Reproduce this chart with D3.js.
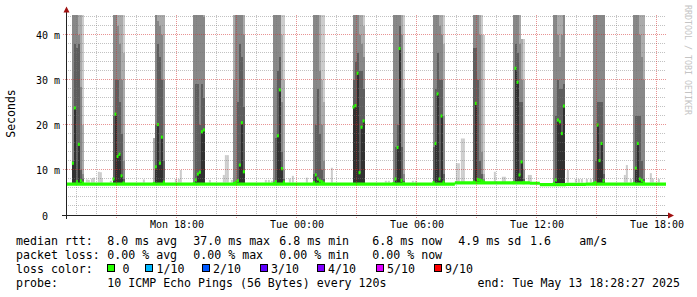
<!DOCTYPE html>
<html>
<head>
<meta charset="utf-8">
<script src="https://cdn.jsdelivr.net/npm/d3@7"></script>
<style>
  body { margin: 0; background: #fff; }
  svg text { font-family: "DejaVu Sans Mono", monospace; }
</style>
</head>
<body>
<svg id="chart" width="697" height="297"></svg>
<script>
// ---- data ----
var startTime = "2025-05-12T12:28:27";
var endTime = "2025-05-13T18:28:27";

var yTicks = [0, 10, 20, 30, 40];
var xLabels = ["2025-05-12T18:00", "2025-05-13T00:00", "2025-05-13T06:00", "2025-05-13T12:00", "2025-05-13T18:00"];

// median outside the spikes (step series)
var baseTimes = ["2025-05-12T12:28", "2025-05-13T07:55", "2025-05-13T11:40", "2025-05-13T12:10", "2025-05-13T13:28", "2025-05-13T14:28"];
var baseMedian = [6.85, 7.15, 7.05, 6.75, 6.8, 6.85];

// small light smoke blips above the baseline
var blipTimes = ["2025-05-12T13:28", "2025-05-12T13:34", "2025-05-12T13:43", "2025-05-12T13:49", "2025-05-12T14:04",
  "2025-05-12T14:10", "2025-05-12T14:13", "2025-05-12T14:40", "2025-05-12T16:19", "2025-05-12T17:55",
  "2025-05-12T18:04", "2025-05-12T18:10", "2025-05-12T19:37", "2025-05-12T20:19", "2025-05-12T20:25",
  "2025-05-12T20:31", "2025-05-12T20:43", "2025-05-12T22:25", "2025-05-12T22:34", "2025-05-12T22:43",
  "2025-05-12T23:37", "2025-05-12T23:46", "2025-05-13T00:28", "2025-05-13T01:43", "2025-05-13T04:25",
  "2025-05-13T04:34", "2025-05-13T05:46", "2025-05-13T05:55", "2025-05-13T07:58", "2025-05-13T08:04",
  "2025-05-13T08:13", "2025-05-13T08:19", "2025-05-13T09:52", "2025-05-13T10:16", "2025-05-13T10:22",
  "2025-05-13T11:34", "2025-05-13T11:40", "2025-05-13T13:31", "2025-05-13T13:55", "2025-05-13T14:04",
  "2025-05-13T14:13", "2025-05-13T14:28", "2025-05-13T14:40", "2025-05-13T16:22", "2025-05-13T16:28",
  "2025-05-13T16:40", "2025-05-13T17:40", "2025-05-13T17:46", "2025-05-13T18:04"];
var blipTops = [7.9, 7.8, 8.1, 8.3, 9.6, 9.5, 8.2, 7.6, 7.9, 8.0,
  8.0, 10.0, 7.8, 8.9, 13.3, 13.3, 7.8, 7.8, 7.8, 7.6,
  8.1, 8.7, 8.3, 10.5, 7.6, 7.6, 7.6, 7.6, 11.5, 11.5,
  17.0, 17.0, 9.6, 8.5, 8.5, 8.9, 8.9, 10.0, 8.0, 8.0,
  8.0, 8.0, 8.0, 8.9, 11.1, 8.0, 9.3, 8.1, 8.0];

// the two-hourly spikes, 6 samples of 6 minutes each
var spikeStarts = ["2025-05-12T12:46", "2025-05-12T14:48", "2025-05-12T16:49", "2025-05-12T18:49", "2025-05-12T20:49",
  "2025-05-12T22:49", "2025-05-13T00:49", "2025-05-13T02:48", "2025-05-13T04:48", "2025-05-13T06:48",
  "2025-05-13T08:49", "2025-05-13T10:48", "2025-05-13T12:49", "2025-05-13T14:48", "2025-05-13T16:49"];

var spikeMedian = [
  [11.5, 23.8, 7.4, 15.7, 7.6, 7.1],
  [8.0, 22.4, 13.0, 13.5, 8.7, 7.1],
  [7.0, 10.7, 20.1, 11.5, 17.3, 7.3],
  [7.0, 7.8, 9.1, 9.5, 18.5, 18.9],
  [7.0, 7.3, 7.6, 11.1, 20.5, 9.6],
  [7.0, 7.4, 17.6, 27.8, 10.3, 7.3],
  [7.2, 8.9, 8.0, 7.6, 7.4, 7.1],
  [24.0, 24.3, 31.5, 9.4, 19.5, 20.9],
  [7.0, 8.0, 15.0, 37.0, 7.7, 7.0],
  [7.2, 15.9, 26.9, 8.0, 22.0, 7.3],
  [7.3, 24.8, 7.9, 7.8, 7.6, 7.3],
  [7.2, 32.6, 29.5, 8.9, 11.8, 7.2],
  [7.0, 7.8, 21.1, 20.7, 18.1, 24.2],
  [7.0, 7.2, 20.0, 12.1, 15.9, 7.6],
  [7.0, 10.4, 15.9, 8.0, 7.7, 7.2]
];

// upper pings per sample (7th..10th of 10), ms
var spikeSmoke = [
  [[12, 50, 50, 50], [38, 50, 50, 50], [37, 50, 50, 50], [38, 40, 50, 50], [10, 28.5, 50, 50], [8, 9, 20, 50]],
  [[22, 50, 50, 50], [30, 50, 50, 50], [30, 42, 50, 50], [25, 38, 50, 50], [18, 30, 50, 50], [8, 12, 36, 50]],
  [[7.2, 7.4, 17, 17], [20, 50, 50, 50], [38, 43, 50, 50], [35, 42, 50, 50], [30, 40, 50, 50], [12, 30, 50, 50]],
  [[7.3, 50, 50, 50], [29, 50, 50, 50], [29, 50, 50, 50], [20, 50, 50, 50], [29, 50, 50, 50], [26, 44, 50, 50]],
  [[7.2, 30, 50, 50], [7.5, 50, 50, 50], [25, 50, 50, 50], [38, 50, 50, 50], [35, 50, 50, 50], [24, 40, 50, 50]],
  [[7.3, 50, 50, 50], [17, 50, 50, 50], [32, 50, 50, 50], [35, 45, 50, 50], [14, 25, 40, 50], [8, 10, 30, 50]],
  [[9, 50, 50, 50], [20, 50, 50, 50], [28, 50, 50, 50], [18, 32, 50, 50], [10, 20, 30, 50], [8, 12, 25, 50]],
  [[30, 50, 50, 50], [34, 50, 50, 50], [36, 45, 50, 50], [32, 40, 50, 50], [32, 38, 50, 50], [28, 35, 42, 50]],
  [[7.4, 50, 50, 50], [15, 50, 50, 50], [20, 50, 50, 50], [42, 50, 50, 50], [15, 40, 50, 50], [7.5, 9, 28, 50]],
  [[15, 50, 50, 50], [28, 50, 50, 50], [36, 50, 50, 50], [30, 42, 50, 50], [30, 40, 50, 50], [9, 22, 38, 50]],
  [[37, 50, 50, 50], [37, 50, 50, 50], [30, 50, 50, 50], [12, 40, 50, 50], [9, 14, 40, 50], [7.5, 8, 9, 40]],
  [[7.5, 50, 50, 50], [38, 50, 50, 50], [36, 50, 50, 50], [25, 38, 50, 50], [25, 30, 39, 39], [8, 10, 30, 39]],
  [[7.3, 50, 50, 50], [22, 50, 50, 50], [30, 40, 50, 50], [28, 35, 50, 50], [28, 40, 50, 50], [29, 45, 50, 50]],
  [[7.3, 50, 50, 50], [12, 50, 50, 50], [25, 50, 50, 50], [25, 50, 50, 50], [25, 50, 50, 50], [9, 50, 50, 50]],
  [[7.3, 50, 50, 50], [22, 50, 50, 50], [22, 45, 50, 50], [22, 40, 50, 50], [12, 35, 50, 50], [8, 30, 45, 50]]
];

var rttStats = ["8.0 ms avg", "37.0 ms max", "6.8 ms min", "6.8 ms now", "4.9 ms sd", "1.6", "am/s"];
var lossStats = ["0.00 % avg", "0.00 % max", "0.00 % min", "0.00 % now"];
var lossNames = ["0", "1/10", "2/10", "3/10", "4/10", "5/10", "9/10"];
var lossColors = ["#26ff00", "#00b8ff", "#0059ff", "#5e00ff", "#7e00ff", "#dd00ff", "#ff0000"];
var probeText = "10 ICMP Echo Pings (56 Bytes) every 120s";
var endText = "end: Tue May 13 18:28:27 2025";

// ---- layout ----
var pL = 66, pR = 666, pT = 15, pB = 215;
var yMax = 44.44;
var sampleMs = 6 * 60 * 1000;
var lowPing = 7.2;
var medianHalf = 0.35;
var shades = ["#313131", "#5e5e5e", "#888888", "#ababab", "#cccccc"];
var green = "#26ff00";

var parse = d3.isoParse;
var t0 = parse(startTime), t1 = parse(endTime);

var x = d3.scaleTime().domain([t0, t1]).range([pL, pR]);
var y = d3.scaleLinear().domain([0, yMax]).range([pB, pT]);
var crisp = function (v) { return Math.floor(v) + 0.5; };

var svg = d3.select("#chart");
svg.append("rect").attr("width", 697).attr("height", 297).attr("fill", "#fff");

svg.append("clipPath").attr("id", "plotclip")
  .append("rect").attr("x", pL).attr("y", pT).attr("width", pR - pL).attr("height", pB - pT);

var plot = svg.append("g").attr("clip-path", "url(#plotclip)");

// baseline blips
plot.append("g").selectAll("rect")
  .data(blipTimes.map(function (t, i) { return { t: parse(t), v: blipTops[i] }; }))
  .enter().append("rect")
  .attr("x", function (d) { return x(d.t); })
  .attr("width", function (d) { return x(new Date(+d.t + sampleMs)) - x(d.t); })
  .attr("y", function (d) { return y(d.v); })
  .attr("height", function (d) { return y(lowPing) - y(d.v); })
  .attr("fill", shades[4]);

// spike smoke bands
var cells = [], marks = [];
spikeStarts.forEach(function (s, k) {
  var start = parse(s);
  spikeMedian[k].forEach(function (m, j) {
    var ta = new Date(+start + j * sampleMs), tb = new Date(+ta + sampleMs);
    var edges = [lowPing, m].concat(spikeSmoke[k][j]);
    for (var i = 0; i < 5; i++) {
      var lo = Math.max(edges[i], lowPing), hi = Math.min(edges[i + 1], yMax + 1);
      if (hi > lo) cells.push({ ta: ta, tb: tb, lo: lo, hi: hi, c: shades[i] });
    }
    marks.push({ ta: ta, tb: tb, m: m });
  });
});

plot.append("g").selectAll("rect")
  .data(cells).enter().append("rect")
  .attr("x", function (d) { return x(d.ta); })
  .attr("width", function (d) { return x(d.tb) - x(d.ta); })
  .attr("y", function (d) { return y(d.hi); })
  .attr("height", function (d) { return y(d.lo) - y(d.hi); })
  .attr("fill", function (d) { return d.c; })
  .attr("shape-rendering", "crispEdges");

// baseline median
var basePts = baseTimes.map(function (t, i) { return { t: parse(t), v: baseMedian[i] }; });
basePts.push({ t: t1, v: baseMedian[baseMedian.length - 1] });
plot.append("path")
  .datum(basePts)
  .attr("fill", green)
  .attr("d", d3.area().curve(d3.curveStepAfter)
    .x(function (d) { return x(d.t); })
    .y0(function (d) { return y(d.v - medianHalf); })
    .y1(function (d) { return y(d.v + medianHalf); }));

// spike median marks
plot.append("g").selectAll("rect")
  .data(marks).enter().append("rect")
  .attr("x", function (d) { return x(d.ta); })
  .attr("width", function (d) { return x(d.tb) - x(d.ta); })
  .attr("y", function (d) { return y(d.m + medianHalf); })
  .attr("height", function (d) { return y(d.m - medianHalf) - y(d.m + medianHalf); })
  .attr("fill", green);

// grid
var grid = svg.append("g").attr("stroke-dasharray", "1,1").attr("stroke-width", 1);
var hours = d3.timeHour.range(d3.timeHour.ceil(t0), t1);
var minorHours = hours.filter(function (h) { return h.getHours() % 3 !== 0; });
var majorHours = hours.filter(function (h) { return h.getHours() % 3 === 0; });
var minorY = d3.range(2, yMax, 2).filter(function (v) { return v % 10 !== 0; });
var majorY = [10, 20, 30, 40];

grid.selectAll(".vmin").data(minorHours).enter().append("line")
  .attr("x1", function (d) { return crisp(x(d)); }).attr("x2", function (d) { return crisp(x(d)); })
  .attr("y1", pT).attr("y2", pB).attr("stroke", "rgba(120,120,120,0.45)");
grid.selectAll(".hmin").data(minorY).enter().append("line")
  .attr("y1", function (d) { return crisp(y(d)); }).attr("y2", function (d) { return crisp(y(d)); })
  .attr("x1", pL).attr("x2", pR).attr("stroke", "rgba(120,120,120,0.45)");
grid.selectAll(".vmaj").data(majorHours).enter().append("line")
  .attr("x1", function (d) { return crisp(x(d)); }).attr("x2", function (d) { return crisp(x(d)); })
  .attr("y1", pT).attr("y2", pB + 3).attr("stroke", "rgba(210,40,40,0.5)");
grid.selectAll(".hmaj").data(majorY).enter().append("line")
  .attr("y1", function (d) { return crisp(y(d)); }).attr("y2", function (d) { return crisp(y(d)); })
  .attr("x1", pL - 3).attr("x2", pR).attr("stroke", "rgba(210,40,40,0.5)");

// axes labels
var xAxis = svg.append("g").attr("transform", "translate(0," + pB + ")")
  .call(d3.axisBottom(x).tickValues(xLabels.map(parse))
    .tickFormat(d3.timeFormat("%a %H:%M")).tickSize(0).tickPadding(6));
xAxis.select(".domain").remove();
xAxis.selectAll("text").attr("font-size", 10).attr("font-family", "DejaVu Sans Mono").attr("fill", "#000");

var yAxis = svg.append("g").attr("transform", "translate(" + pL + ",0)")
  .call(d3.axisLeft(y).tickValues(yTicks)
    .tickFormat(function (v) { return v ? v + " m" : "0"; }).tickSize(0).tickPadding(6));
yAxis.select(".domain").remove();
yAxis.selectAll("text").attr("font-size", 10).attr("font-family", "DejaVu Sans Mono").attr("fill", "#000").attr("dy", "0.4em");
yAxis.selectAll(".tick text").filter(function (d) { return d === 0; }).attr("x", -18);

// axis lines + arrows
svg.append("line").attr("x1", 62).attr("x2", 670).attr("y1", pB + 0.5).attr("y2", pB + 0.5)
  .attr("stroke", "#222");
svg.append("line").attr("x1", pL + 0.5).attr("x2", pL + 0.5).attr("y1", pB + 4).attr("y2", 10)
  .attr("stroke", "#222");
svg.append("path").attr("d", "M668,212.5L668,218.5L674,215.5Z").attr("fill", "#a01010");
svg.append("path").attr("d", "M63.5,12.5L69.5,12.5L66.5,6.5Z").attr("fill", "#a01010");

// vertical title + watermark
svg.append("text").attr("transform", "translate(14.5,113.5) rotate(-90)")
  .attr("text-anchor", "middle").attr("font-size", 11.5).text("Seconds");
svg.append("text").attr("transform", "translate(685,5) rotate(90)")
  .attr("font-size", 8.3).attr("fill", "#c4c4c4").text("RRDTOOL / TOBI OETIKER");

// legend
var lg = svg.append("g").attr("font-size", 11.6).attr("fill", "#000").style("white-space", "pre");
var colX = [107.3, 193.3, 279.3, 372.3, 458.3, 530, 579.3];
var rowY = [245, 259, 272.5, 286.5];

lg.append("text").attr("x", 16).attr("y", rowY[0]).text("median rtt:");
lg.selectAll(".rtt").data(rttStats).enter().append("text")
  .attr("x", function (d, i) { return colX[i]; }).attr("y", rowY[0]).text(function (d) { return d; });

lg.append("text").attr("x", 16).attr("y", rowY[1]).text("packet loss:");
lg.selectAll(".loss").data(lossStats).enter().append("text")
  .attr("x", function (d, i) { return colX[i]; }).attr("y", rowY[1]).text(function (d) { return d; });

lg.append("text").attr("x", 16).attr("y", rowY[2]).text("loss color:");
var boxX = [107.5, 145.5, 202.5, 260.5, 317.5, 376.5, 434.5];
var nameX = [122.5, 156.5, 213, 271, 328, 387, 445];
var items = lg.selectAll(".lc").data(lossNames).enter().append("g");
items.append("rect")
  .attr("x", function (d, i) { return boxX[i]; })
  .attr("y", 264.5).attr("width", 7).attr("height", 7)
  .attr("fill", function (d, i) { return lossColors[i]; }).attr("stroke", "#000");
items.append("text")
  .attr("x", function (d, i) { return nameX[i]; }).attr("y", rowY[2]).text(function (d) { return d; });

lg.append("text").attr("x", 16).attr("y", rowY[3]).text("probe:");
lg.append("text").attr("x", 107.3).attr("y", rowY[3]).text(probeText);
lg.append("text").attr("x", 680).attr("y", rowY[3]).attr("text-anchor", "end").text(endText);
</script>
</body>
</html>
